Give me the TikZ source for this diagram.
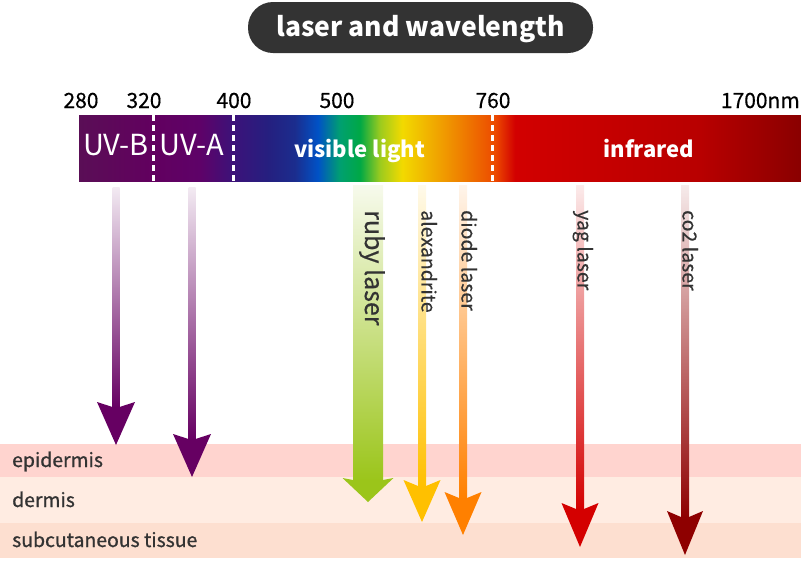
\documentclass[tikz,border=0pt]{standalone}
\usepackage{fontspec}
\setmainfont{Noto Sans CJK JP}
\newfontfamily\medfont{Noto Sans CJK JP}[FakeBold=0.9]
\newfontfamily\semifont{Noto Sans CJK JP}[FakeBold=0.4]
\usepackage{tikz}
\usetikzlibrary{calc}
\usepackage{xcolor}

\definecolor{ink}{HTML}{333333}
\definecolor{epi}{HTML}{FFD4CF}
\definecolor{derm}{HTML}{FFECE2}
\definecolor{subcut}{HTML}{FDDFD0}
\definecolor{uvcol}{HTML}{660062}
\definecolor{rubycol}{HTML}{9BC51A}
\definecolor{alexcol}{HTML}{FFC000}
\definecolor{diodecol}{HTML}{FF8000}
\definecolor{yagcol}{HTML}{D40000}
\definecolor{co2col}{HTML}{8E0000}
\definecolor{sp0}{HTML}{5A0E56}
\definecolor{sp1}{HTML}{62005F}
\definecolor{sp2}{HTML}{5E0268}
\definecolor{sp3}{HTML}{3C1279}
\definecolor{sp4}{HTML}{242080}
\definecolor{sp5}{HTML}{1B2D8E}
\definecolor{sp6}{HTML}{0052C6}
\definecolor{sp7}{HTML}{00A070}
\definecolor{sp8}{HTML}{00A845}
\definecolor{sp9}{HTML}{9CCB1E}
\definecolor{sp10}{HTML}{F2DA00}
\definecolor{sp11}{HTML}{F0A000}
\definecolor{sp12}{HTML}{EE6A00}
\definecolor{sp13}{HTML}{EC4A00}
\definecolor{sp14}{HTML}{D20000}
\definecolor{sp15}{HTML}{B80000}
\definecolor{sp16}{HTML}{8A0000}

\pgfdeclarehorizontalshading{spectrum}{100bp}{color(0bp)=(sp0); color(25bp)=(sp0);
  color(30.12bp)=(sp1); color(33.38bp)=(sp2); color(35.66bp)=(sp3); color(38.23bp)=(sp4);
  color(39.96bp)=(sp5); color(41.55bp)=(sp6); color(43.07bp)=(sp7); color(44.46bp)=(sp8);
  color(45.84bp)=(sp9); color(47.37bp)=(sp10); color(50bp)=(sp11); color(52.42bp)=(sp12);
  color(53.81bp)=(sp13); color(55.19bp)=(sp14); color(68bp)=(sp15); color(75bp)=(sp16);
  color(100bp)=(sp16)}

\begin{document}
\begin{tikzpicture}[x=1pt, y=-1pt,
  pill/.style={fill=ink, rounded corners=25, minimum width=345, minimum height=51, inner sep=0},
  num/.style={anchor=base, inner sep=0, font=\semifont\fontsize{21}{24}\selectfont},
  region/.style={anchor=base, inner sep=0, text=white},
  layer/.style={anchor=base west, inner sep=0, text=ink, font=\medfont\fontsize{19.4}{22}\selectfont},
  beamlabel/.style={rotate=-90, anchor=base west, inner sep=0, text=ink, font=\semifont\fontsize{19.5}{22}\selectfont},
  divider/.style={draw=white, line width=3, dash pattern=on 6 off 4}]
\useasboundingbox (0,0) rectangle (801,560);

\fill[epi] (0,444) rectangle (801,477);
\fill[derm] (0,477) rectangle (801,523);
\fill[subcut] (0,523) rectangle (801,558);
\node[layer] (epidermis) at (12,467) {epidermis};
\node[layer] (dermis) at (12,507) {dermis};
\node[layer] (subcutis) at (12,547) {subcutaneous tissue};

\node[pill] (title) at (420.5,27.5) {};
\node[anchor=base, inner sep=0, text=white, font=\bfseries\fontsize{26.5}{30}\selectfont] (titletext) at (420.5,36.5) {laser and wavelength};

\foreach \x/\t in {81/280,144/320,234/400,337/500,493/760}
  \node[num] (n\t) at (\x,108) {\t};
\node[num, anchor=base east] (n1700) at (800,108) {1700nm};

\node[shading=spectrum, shade, minimum width=722, minimum height=66, inner sep=0] (bar) at (440,148) {};
\foreach \x in {153,233,492}
  \draw[divider] (\x,115) -- (\x,181);
\node[region, font=\fontsize{29}{30}\selectfont] (uvb) at (116,155) {UV-B};
\node[region, font=\fontsize{29}{30}\selectfont] (uva) at (192,155) {UV-A};
\node[region, font=\bfseries\fontsize{22}{26}\selectfont] (visible) at (359.5,157) {visible light};
\node[region, font=\bfseries\fontsize{22}{26}\selectfont] (infrared) at (649,157) {infrared};

\foreach \n/\x/\t/\w/\e/\k/\s/\h/\c in {uvbbeam/116/187/402/445/5/3.5/19/uvcol,
    uvabeam/192/187/434/477/5/3.5/19/uvcol, ruby/368/185/478/502/2/15/25.5/rubycol,
    alex/422/185/480/522/6/4/18.5/alexcol, diode/463/185/492/535/6/4/18.5/diodecol,
    yag/580/185/503/547/6/4/18.5/yagcol, co2/685/185/511/555/6/4/18/co2col}{
  \coordinate (\n) at (\x,\t);
  \coordinate (\n tip) at (\x,\e);
  \shade[top color=\c!8, bottom color=\c] ($(\n)+(-\s,0)$) rectangle ($(\n tip)+(\s,\w-\e+\k+1)$);
  \fill[\c] ($(\n tip)+(-\s,\w-\e+\k)$) -- ($(\n tip)+(-\h,\w-\e)$) -- (\n tip)
    -- ($(\n tip)+(\h,\w-\e)$) -- ($(\n tip)+(\s,\w-\e+\k)$) -- cycle;
}

\node[beamlabel, font=\semifont\fontsize{25}{28}\selectfont] (rubytext) at ($(ruby)+(-3,25)$) {ruby laser};
\node[beamlabel] (alextext) at ($(alex)+(-0.5,25)$) {alexandrite};
\node[beamlabel] (diodetext) at ($(diode)+(-1.5,25)$) {diode laser};
\node[beamlabel] (yagtext) at ($(yag)+(-2.5,25)$) {yag laser};
\node[beamlabel] (co2text) at ($(co2)+(-2.5,25)$) {co2 laser};
\end{tikzpicture}
\end{document}
